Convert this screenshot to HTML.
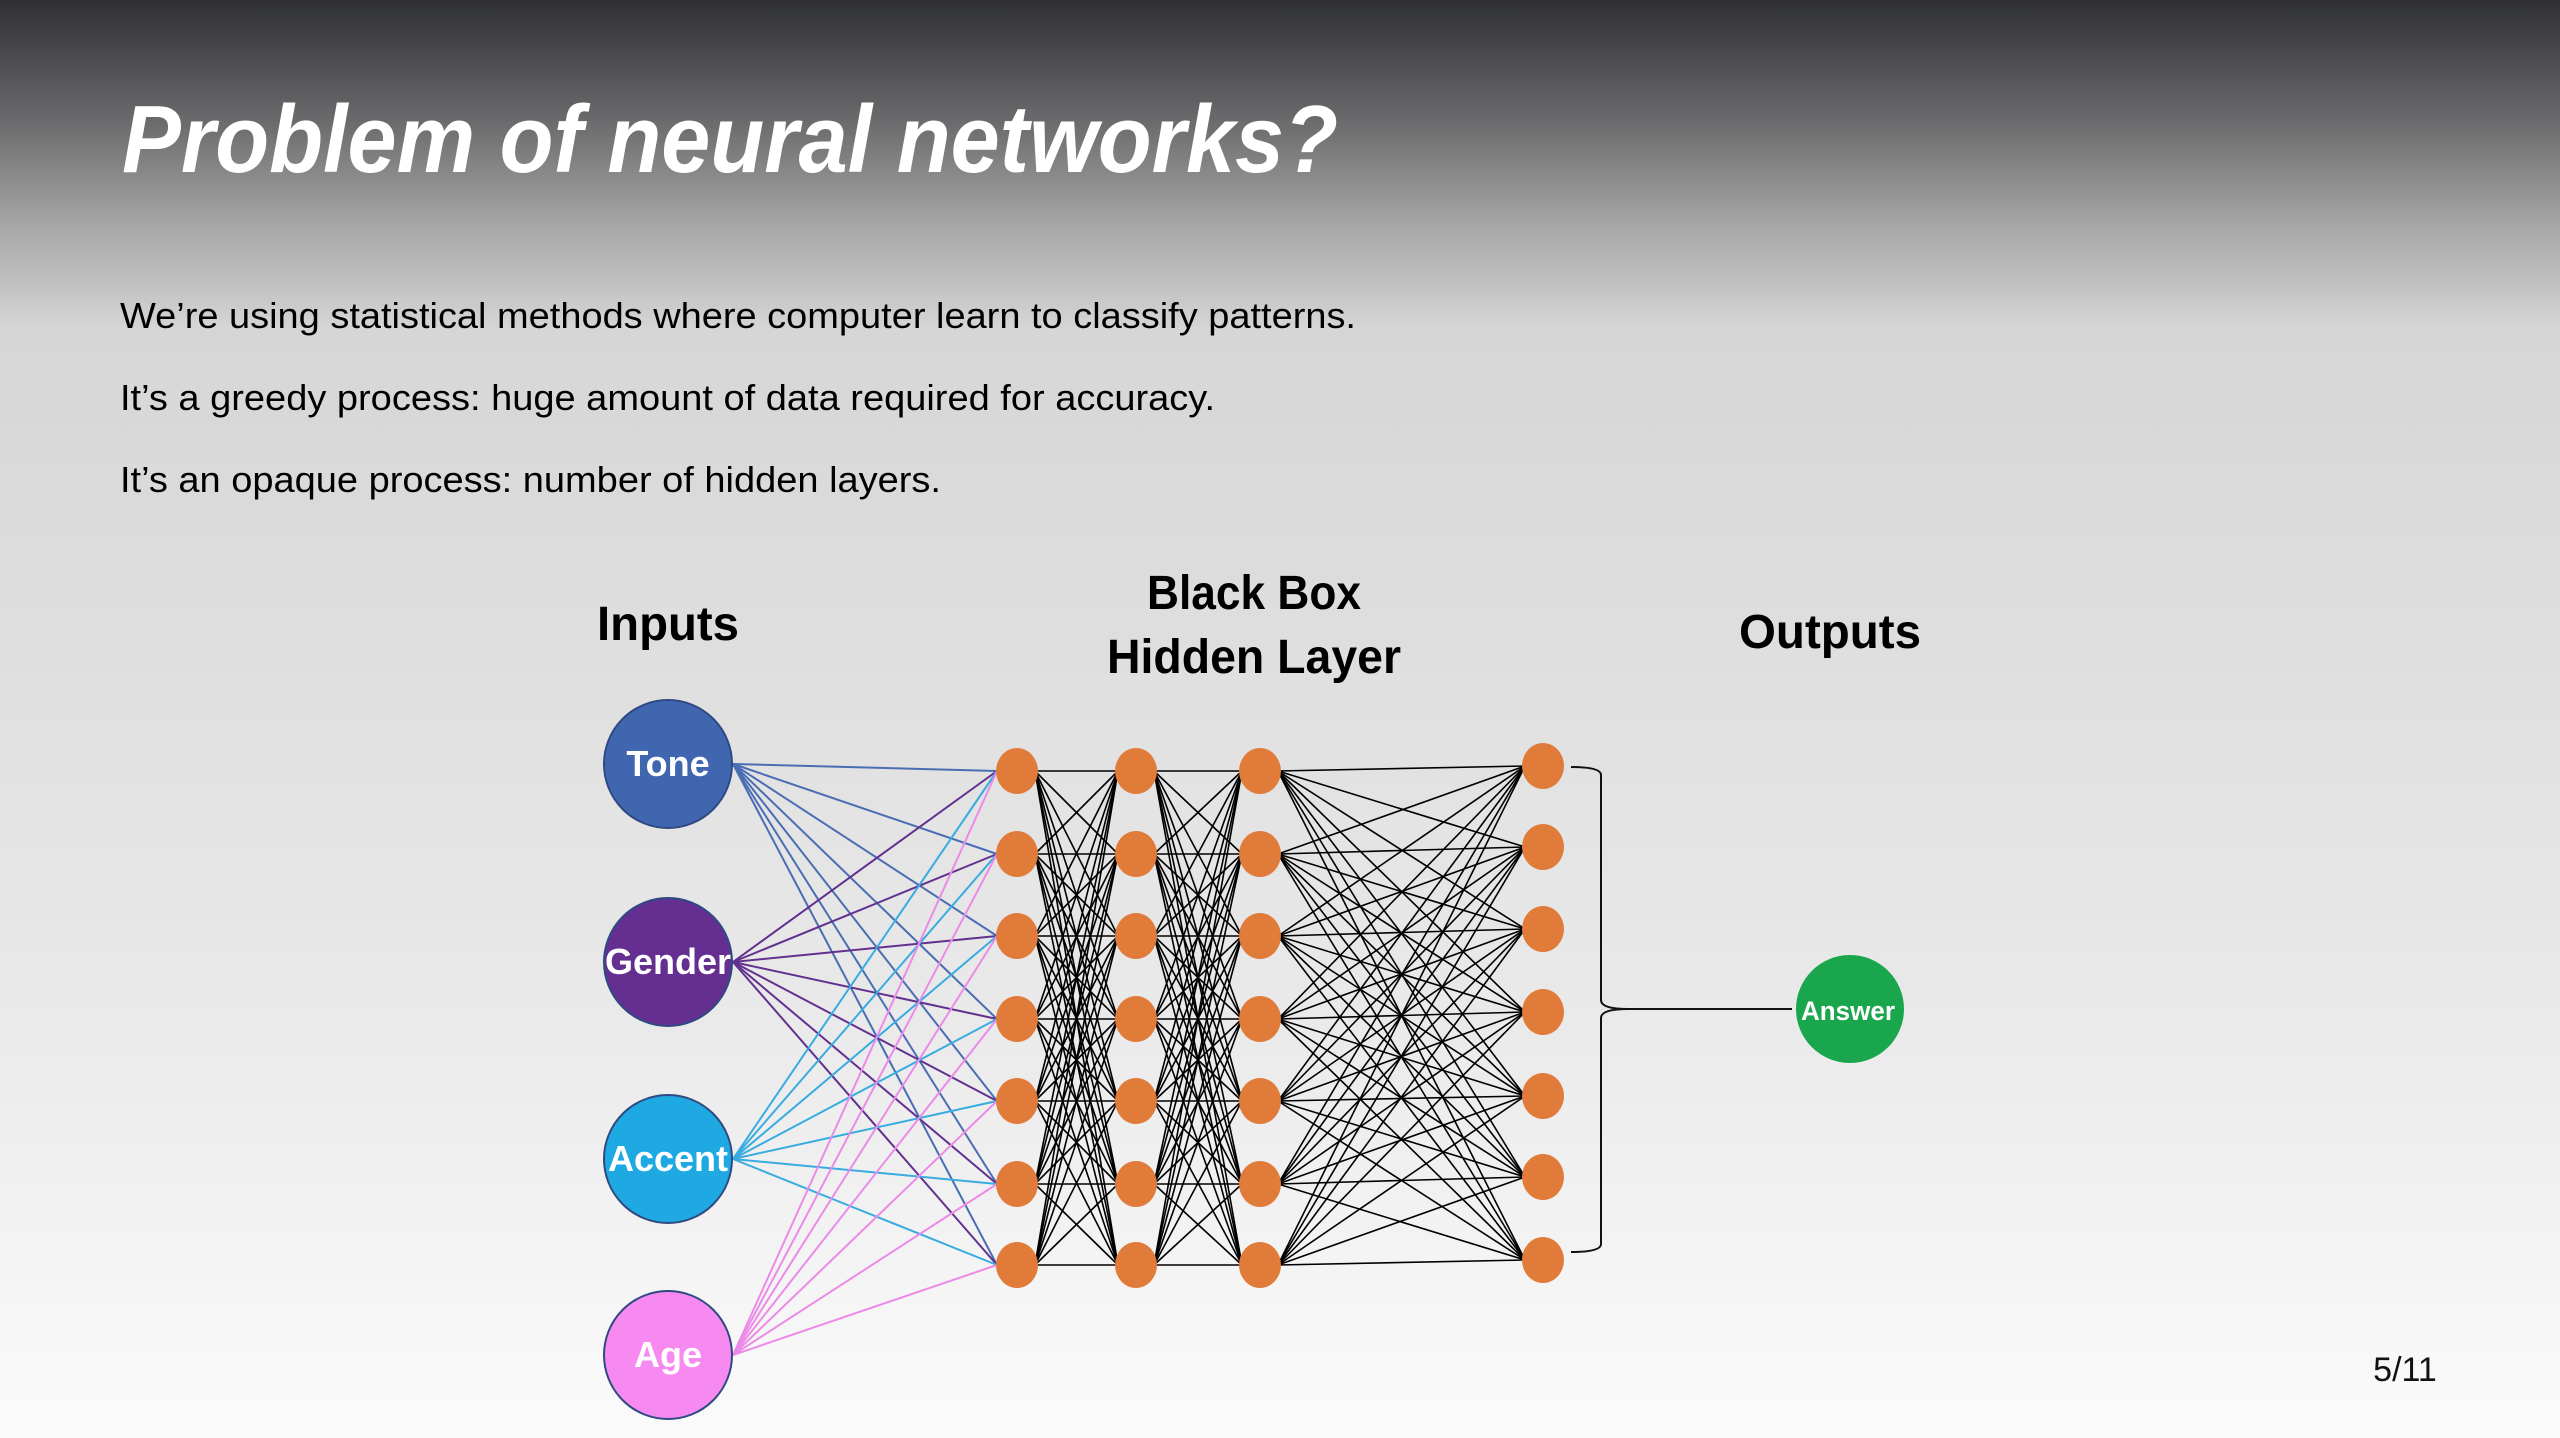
<!DOCTYPE html>
<html><head><meta charset="utf-8"><style>
html,body{margin:0;padding:0;width:2560px;height:1438px;overflow:hidden}
body{background:linear-gradient(to bottom,#2f3034 0px,#6a6a6c 120px,#a9a9a9 230px,#d6d6d6 330px,#dcdcdc 560px,#e9e9e9 1000px,#fbfbfb 1438px)}
svg{position:absolute;left:0;top:0}
</style></head><body>
<svg id="s" width="2560" height="1438" viewBox="0 0 2560 1438" xmlns="http://www.w3.org/2000/svg">
<g font-family="Liberation Sans, sans-serif">
<text x="122" y="172" font-size="96" font-weight="bold" font-style="italic" fill="#fff" textLength="1216" lengthAdjust="spacingAndGlyphs">Problem of neural networks?</text>
<text x="120" y="328" font-size="36" fill="#000" textLength="1236" lengthAdjust="spacingAndGlyphs">We’re using statistical methods where computer learn to classify patterns.</text>
<text x="120" y="410" font-size="36" fill="#000" textLength="1095" lengthAdjust="spacingAndGlyphs">It’s a greedy process: huge amount of data required for accuracy.</text>
<text x="120" y="492" font-size="36" fill="#000" textLength="821" lengthAdjust="spacingAndGlyphs">It’s an opaque process: number of hidden layers.</text>
<text x="668" y="640" font-size="48" font-weight="bold" text-anchor="middle" textLength="142" lengthAdjust="spacingAndGlyphs">Inputs</text>
<text x="1254" y="609" font-size="48" font-weight="bold" text-anchor="middle" textLength="214" lengthAdjust="spacingAndGlyphs">Black Box</text>
<text x="1254" y="673" font-size="48" font-weight="bold" text-anchor="middle" textLength="294" lengthAdjust="spacingAndGlyphs">Hidden Layer</text>
<text x="1830" y="648" font-size="48" font-weight="bold" text-anchor="middle" textLength="182" lengthAdjust="spacingAndGlyphs">Outputs</text>
<text x="2405" y="1381" font-size="34" text-anchor="middle" fill="#111">5/11</text>
</g>
<g id="lines"></g>
<g id="nodes"></g>
<path d="M1571 767 Q1601 767 1601 775 L1601 1000 Q1601 1009 1628 1009 Q1601 1009 1601 1018 L1601 1244 Q1601 1252 1571 1252" fill="none" stroke="#111" stroke-width="2"/>
<line x1="1628" y1="1009" x2="1792" y2="1009" stroke="#111" stroke-width="2"/>
<circle cx="1850" cy="1009" r="54" fill="#1aa64d"/>
<text x="1848" y="1020" font-family="Liberation Sans, sans-serif" font-size="27" font-weight="bold" fill="#fff" text-anchor="middle" textLength="94" lengthAdjust="spacingAndGlyphs">Answer</text>
</svg>
<script>
var NS="http://www.w3.org/2000/svg";
var L=document.getElementById("lines"),N=document.getElementById("nodes");
function el(p,t,a){var e=document.createElementNS(NS,t);for(var k in a)e.setAttribute(k,a[k]);p.appendChild(e);return e;}
var ins=[[668,764,"#4066b0","Tone",36],[668,962,"#652f92","Gender",36],[668,1159,"#1fa9e3","Accent",36],[668,1355,"#f78af0","Age",36]];
var lc=["#4a6db3","#62318f","#38ace0","#ec8ae8"];
var rows=[771,854,936,1019,1101,1184,1265];
var last=[766,847,929,1012,1096,1177,1260];
var cols=[1017,1136,1260,1543];
ins.forEach(function(n,i){rows.forEach(function(y){el(L,"line",{x1:n[0]+65,y1:n[1],x2:cols[0]-20,y2:y,stroke:lc[i],"stroke-width":2});});});
for(var c=0;c<3;c++){var ya=rows,yb=(c==2?last:rows);
 for(var a=0;a<7;a++)for(var b=0;b<7;b++)el(L,"line",{x1:cols[c]+18,y1:ya[a],x2:cols[c+1]-18,y2:yb[b],stroke:"#000","stroke-width":1.6});}
ins.forEach(function(n){el(N,"circle",{cx:n[0],cy:n[1],r:64,fill:n[2],stroke:"#2f4a80","stroke-width":2});
 var t=el(N,"text",{x:n[0],y:n[1]+12,"font-family":"Liberation Sans, sans-serif","font-size":n[4],"font-weight":"bold",fill:"#fff","text-anchor":"middle"});t.textContent=n[3];});
for(var c=0;c<4;c++){var ys=(c==3?last:rows);ys.forEach(function(y){el(N,"ellipse",{cx:cols[c],cy:y,rx:21,ry:23,fill:"#e07b3a"});});}
</script>
</body></html>
